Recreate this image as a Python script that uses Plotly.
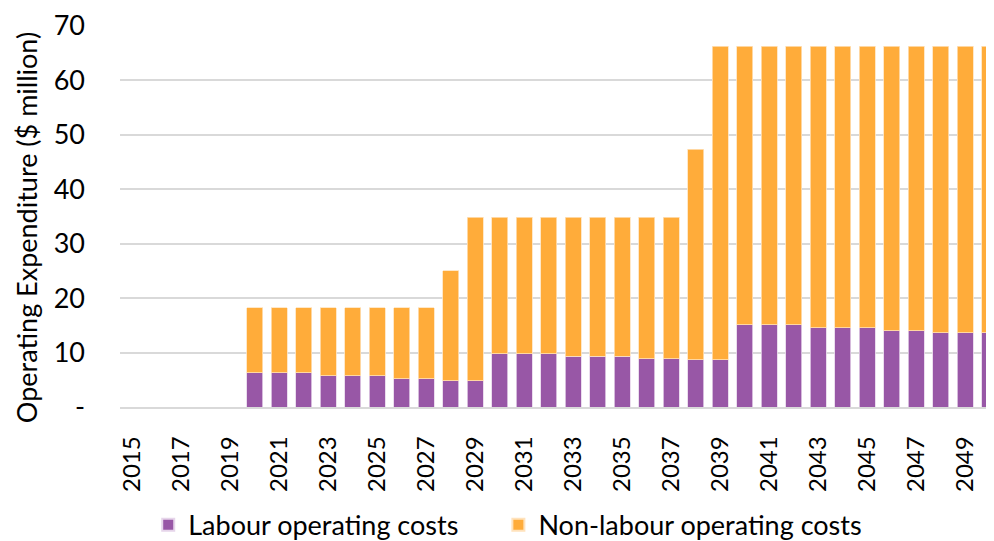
import plotly.graph_objects as go

years = list(range(2015, 2051))
labour = [0, 0, 0, 0, 0,
          6.3, 6.3, 6.3, 5.75, 5.75, 5.75, 5.2, 5.2, 4.8, 4.8,
          9.8, 9.8, 9.8, 9.3, 9.3, 9.3, 8.9, 8.9, 8.7, 8.7,
          15.1, 15.1, 15.1, 14.6, 14.6, 14.6, 14.0, 14.0, 13.65, 13.65, 13.65]
total = [0, 0, 0, 0, 0,
         18.2, 18.2, 18.2, 18.2, 18.2, 18.2, 18.2, 18.2, 25.0, 34.9,
         34.9, 34.9, 34.9, 34.9, 34.9, 34.9, 34.9, 34.9, 47.4, 66.3,
         66.3, 66.3, 66.3, 66.3, 66.3, 66.3, 66.3, 66.3, 66.3, 66.3, 66.3]
non_labour = [round(t - l, 2) for t, l in zip(total, labour)]

tick_years = list(range(2015, 2051, 2))
y_ticks = [0, 10, 20, 30, 40, 50, 60, 70]
y_ticktext = ["-", "10", "20", "30", "40", "50", "60", "70"]
y_title = "Operating Expenditure ($ million)"

FONT = "Lato"
purple = "#9857A6"
orange = "#FFAC3A"

fig = go.Figure()
fig.add_trace(go.Bar(x=years, y=labour, name="Labour operating costs", legend="legend",
                     marker=dict(color=purple, line=dict(color="#E6D5EA", width=0.8))))
fig.add_trace(go.Bar(x=years, y=non_labour, name="Non-labour operating costs", legend="legend2",
                     marker=dict(color=orange, line=dict(color="#FFE2BC", width=0.8))))

leg_common = dict(orientation="h", xanchor="left", y=-0.31, yanchor="middle",
                  font=dict(size=27, family=FONT), itemwidth=30, itemsizing="constant",
                  bgcolor="rgba(0,0,0,0)")

fig.update_layout(
    barmode="stack",
    bargap=0.335,
    width=994, height=541,
    margin=dict(l=112, r=0, t=18, b=142, autoexpand=False),
    plot_bgcolor="white", paper_bgcolor="white",
    font=dict(family=FONT, color="#000000", size=26),
    showlegend=True,
    legend=dict(x=0.032, **leg_common),
    legend2=dict(x=0.429, **leg_common),
    xaxis=dict(range=[2014.5, 2050.5], tickmode="array", tickvals=tick_years,
               ticktext=[str(y) for y in tick_years], tickangle=-90,
               tickfont=dict(size=24, family=FONT), showgrid=False, automargin=False,
               showline=True, linecolor="#D9D9D9", linewidth=1.5, ticks="",
               ticklabelstandoff=18),
    yaxis=dict(range=[0, 70], tickmode="array", tickvals=y_ticks, ticktext=y_ticktext,
               tickfont=dict(size=27, family=FONT), showgrid=True, gridcolor="#D9D9D9",
               gridwidth=1.5, zeroline=False, ticks="", automargin=False,
               ticklabelstandoff=34),
    annotations=[dict(text=y_title, textangle=-90, xref="paper", yref="paper",
                      x=-0.1066, y=0.472, xanchor="center", yanchor="middle",
                      showarrow=False, font=dict(size=27, family=FONT, color="#000000"))],
)

fig.write_html("out.html")
